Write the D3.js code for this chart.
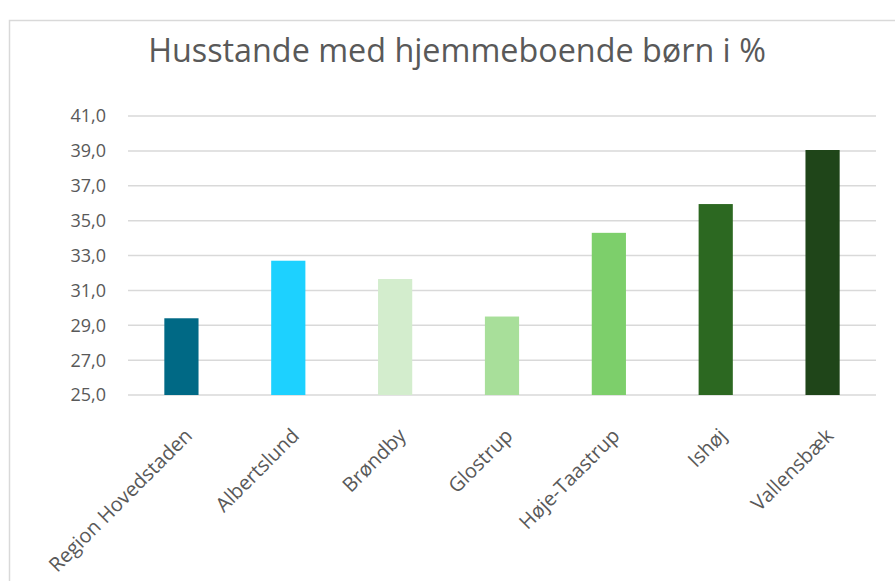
<!DOCTYPE html>
<meta charset="utf-8">
<style>
  body { margin: 0; background: #fff; }
  text { font-family: "Open Sans", "Liberation Sans", sans-serif; fill: #595959; }
  .grid line { stroke: #d9d9d9; stroke-width: 1.5px; }
</style>
<svg width="895" height="581"></svg>
<script src="https://d3js.org/d3.v7.min.js"></script>
<script>
  var categories = ["Region Hovedstaden", "Albertslund", "Brøndby", "Glostrup", "Høje-Taastrup", "Ishøj", "Vallensbæk"];
  var values = [29.4, 32.7, 31.65, 29.5, 34.3, 35.95, 39.05];
  var colors = ["#006985", "#1dd1ff", "#d3edcd", "#a8df9a", "#7dcf6b", "#2c6821", "#1f4519"];
  var yTicks = [25, 27, 29, 31, 33, 35, 37, 39, 41];

  var svg = d3.select("svg");

  // chart frame
  svg.append("rect")
    .attr("x", 9.5).attr("y", 20.5)
    .attr("width", 900).attr("height", 600)
    .attr("fill", "none").attr("stroke", "#d9d9d9").attr("stroke-width", 1.5);

  var x = d3.scaleBand().domain(categories).range([128, 876]).paddingInner(0.68).paddingOuter(0.34);
  var y = d3.scaleLinear().domain([25, 41]).range([395, 116]);

  // gridlines
  svg.append("g").attr("class", "grid")
    .selectAll("line").data(yTicks).enter().append("line")
    .attr("x1", 128).attr("x2", 876)
    .attr("y1", d => y(d)).attr("y2", d => y(d));

  // y labels
  svg.append("g").selectAll("text").data(yTicks).enter().append("text")
    .attr("x", 106).attr("y", d => y(d)).attr("dy", "0.36em")
    .attr("text-anchor", "end").style("font-size", "18px")
    .text(d => d3.format(".1f")(d).replace(".", ","));

  // bars
  svg.append("g").selectAll("rect").data(values).enter().append("rect")
    .attr("x", (d, i) => x(categories[i]))
    .attr("width", x.bandwidth())
    .attr("y", d => y(d))
    .attr("height", d => y(25) - y(d))
    .attr("fill", (d, i) => colors[i]);

  // x labels
  svg.append("g").selectAll("text").data(categories).enter().append("text")
    .attr("text-anchor", "end").style("font-size", "20px")
    .attr("transform", d => "translate(" + (x(d) + x.bandwidth() / 2 + 12) + ",437) rotate(-45)")
    .text(d => d);

  // title
  var title = svg.append("text")
    .attr("x", 457).attr("y", 62)
    .attr("text-anchor", "middle").style("font-size", "28px")
    .text("Husstande med hjemmeboende børn i %");
  var w = title.node().getComputedTextLength();
  title.style("font-size", (28 * 618 / w) + "px");
</script>
